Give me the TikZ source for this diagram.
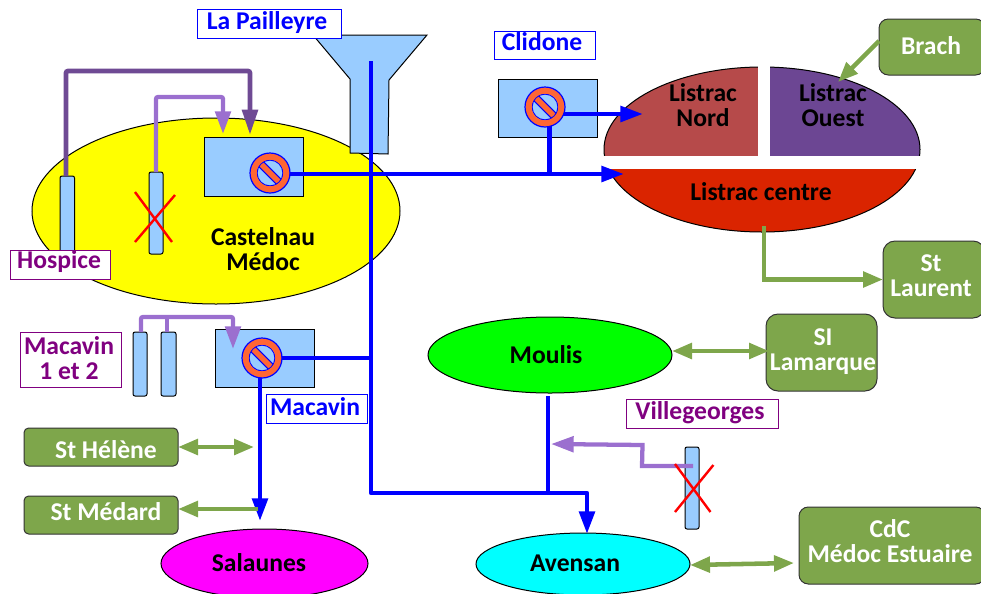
\documentclass[tikz,border=0pt]{standalone}
\usepackage{fontspec}
\setmainfont{Carlito}[BoldFont={Carlito Bold}]
\usetikzlibrary{arrows.meta,shapes.geometric,calc}
\definecolor{tubeblue}{HTML}{99CCFF}
\definecolor{pgreen}{HTML}{7EA64B}
\definecolor{darkpurple}{HTML}{6F4A94}
\definecolor{lightpurple}{HTML}{9B6FCF}
\definecolor{labelpurple}{HTML}{800080}
\definecolor{ringorange}{HTML}{FF6633}
\definecolor{nordred}{HTML}{B64A4A}
\definecolor{ouestpurple}{HTML}{6C4693}
\definecolor{centrered}{HTML}{DA2400}
\definecolor{pureyellow}{RGB}{255,255,0}
\definecolor{puregreen}{RGB}{0,255,0}
\definecolor{puremagenta}{RGB}{255,0,255}
\definecolor{purecyan}{RGB}{0,255,255}
\definecolor{pureblue}{RGB}{0,0,255}
\definecolor{purered}{RGB}{255,0,0}
\tikzset{
  txt/.style={font=\bfseries\fontsize{19.2}{18.75}\selectfont,align=center,inner sep=0pt},
  blacktxt/.style={txt,text=black},
  whitetxt/.style={txt,text=white},
  shapebase/.style={inner sep=0pt,outer sep=0pt,draw=black,line width=0.75pt},
  station/.style={shapebase,rectangle,fill=tubeblue},
  tube/.style={shapebase,rectangle,fill=tubeblue,rounded corners=1.5pt},
  greenbox/.style={shapebase,rectangle,fill=pgreen,draw=black!80,rounded corners=#1},
  greenbox/.default=7pt,
  bluelabel/.style={shapebase,rectangle,fill=white,draw=pureblue},
  purplelabel/.style={shapebase,rectangle,fill=white,draw=labelpurple},
  town/.style={shapebase,ellipse},
  nomark/.style={circle,minimum size=30pt,inner sep=0pt,outer sep=0pt},
  bluepipe/.style={draw=pureblue,line width=3.5pt,line join=round,-{Triangle[length=17pt,width=11.5pt]}},
  blueplain/.style={draw=pureblue,line width=3.5pt,line join=round},
  dpipe/.style={draw=darkpurple,line width=3.5pt,rounded corners=1.5pt,-{Triangle[length=19pt,width=11.5pt]}},
  lpipe/.style={draw=lightpurple,line width=3.2pt,rounded corners=1.5pt,-{Triangle[length=17pt,width=11.5pt]}},
  lplain/.style={draw=lightpurple,line width=3.2pt},
  garrow/.style={draw=pgreen,line width=3.4pt,-{Triangle[length=15pt,width=11.5pt]}},
  gdouble/.style={draw=pgreen,line width=3.4pt,{Triangle[length=15pt,width=11.5pt]}-{Triangle[length=15pt,width=11.5pt]}},
  crossline/.style={draw=purered,line width=1.8pt},
}
\newcommand{\placebox}[6]{%
  \pgfmathsetmacro\bxw{(#5-#3)*0.75}%
  \pgfmathsetmacro\bxh{(#6-#4)*0.75}%
  \node[#1,minimum width=\bxw pt,minimum height=\bxh pt] (#2) at ({(#3+#5)/2},{(#4+#6)/2}) {};%
}
\newcommand{\nosym}[1]{%
  \fill[tubeblue] (#1.center) circle (13);
  \draw[pureblue,line width=6pt] ($(#1.center)+(-10,-10)$) -- ($(#1.center)+(10,10)$);
  \draw[ringorange,line width=4.2pt] ($(#1.center)+(-12,-12)$) -- ($(#1.center)+(12,12)$);
  \draw[pureblue,line width=.9pt] (#1.center) circle (13);
  \draw[ringorange,line width=4.8pt] (#1.center) circle (16.5);
  \draw[pureblue,line width=.9pt] (#1.center) circle (20);
}
\begin{document}
\begin{tikzpicture}[x=0.75pt,y=-0.75pt]
\useasboundingbox (0,0) rectangle (981,593);
\clip (0,0) rectangle (981,593);
% towns
\placebox{town,fill=pureyellow}{castelnau}{32}{118}{400}{304}
\placebox{town,fill=puregreen}{moulis}{428}{317}{672}{393}
\placebox{town,fill=puremagenta}{salaunes}{161}{529}{368}{598}
\placebox{town,fill=purecyan}{avensan}{476}{533}{690}{595}
% Listrac
\placebox{town,draw=none}{listrac}{604}{67}{920}{232}
\begin{scope}
  \clip (600,60) rectangle (764,160);
  \fill[nordred] (listrac.center) ellipse (158 and 82.5);
\end{scope}
\begin{scope}
  \clip (764,60) rectangle (925,160);
  \fill[ouestpurple] (listrac.center) ellipse (158 and 82.5);
\end{scope}
\begin{scope}
  \clip (600,160) rectangle (925,240);
  \fill[centrered] (listrac.center) ellipse (158 and 82.5);
\end{scope}
\draw[line width=0.75pt] (listrac.center) ellipse (158 and 82.5);
\fill[white] (758,60) rectangle (770,160);
\fill[white] (598,156) rectangle (926,169);
% funnel
\draw[shapebase,fill=tubeblue] (313,35) -- (427,35) -- (389,80) -- (388,154) -- (350,153) -- (350,79) -- cycle;
% tubes
\placebox{tube}{hosptube}{60}{176}{74.5}{262}
\placebox{tube}{xtube}{149}{172}{163}{254}
\placebox{tube}{mac1}{133}{332}{147}{396}
\placebox{tube}{mac2}{161}{332}{176}{396}
\placebox{tube}{vtube}{685}{447}{699}{529}
% stations
\placebox{station}{castbox}{204}{137}{303}{196}
\placebox{station}{clidbox}{498}{79}{597}{137}
\placebox{station}{macbox}{215}{329}{314}{387}
\node[nomark] (castno) at (270,173) {};
\node[nomark] (clidno) at (545,107) {};
\node[nomark] (macno) at (262,358) {};
% coordinates
\coordinate (tipA) at (250,135);
\coordinate (tipB) at (223,134);
\coordinate (tipC) at (233,349);
\coordinate (funtop) at (371,61);
\coordinate (maincorner) at (371,493);
\coordinate (avtip) at (587,534);
\coordinate (listtip) at (624,174);
\coordinate (nordtip) at (643,114);
\coordinate (cljoin) at (549.5,174);
\coordinate (saltip) at (260,521);
\coordinate (moubottom) at (548,396);
\coordinate (moujoin) at (548,493);
\coordinate (vtip) at (551,444);
\coordinate (vstart) at (693,466);
\coordinate (helene) at (254,447);
\coordinate (medard) at (258,509);
\coordinate (lcentre) at (764,226);
% purple pipes
\draw[dpipe] (66,176) -- (66,71) -| (tipA);
\draw[lpipe] (156,172) -- (156,97) -| (tipB);
\draw[lpipe] (141,332) -- (141,317) -| (tipC);
\draw[lplain] (167,332) -- (167,317);
% blue pipes
\draw[bluepipe] (funtop) -- (maincorner) -| (avtip);
\draw[bluepipe] (castno.center |- listtip) -- (listtip);
\draw[bluepipe] (clidno.center |- nordtip) -- (nordtip);
\draw[blueplain] (clidno.center -| cljoin) -- (cljoin);
\draw[blueplain] (macno.center) -- (macno.center -| funtop);
\draw[bluepipe] (macno.center -| saltip) -- (saltip);
\draw[blueplain] (moubottom) -- (moujoin);
\nosym{castno}
\nosym{clidno}
\nosym{macno}
% Villegeorges pipe
\draw[draw=lightpurple,line width=3.2pt,-{Triangle[length=17pt,width=11.5pt]}] (vstart) -- (642,466) -- (642.5,445) -- (vtip);
% crosses
\draw[crossline] (135,192) -- (172,242);
\draw[crossline] (175,195) -- (135,242);
\draw[crossline] (675,464) -- (710.5,512);
\draw[crossline] (713.4,465) -- (675,512);
% green boxes
\placebox{greenbox=7pt}{brach}{879}{19}{985}{75}
\placebox{greenbox=9pt}{laurent}{883}{241}{985}{318}
\placebox{greenbox=9pt}{lamarque}{766}{314}{877}{391}
\placebox{greenbox=7pt}{cdc}{799}{507}{985}{584}
\placebox{greenbox=3.5pt}{helenebox}{24}{428}{178}{466}
\placebox{greenbox=3.5pt}{medardbox}{24}{496}{178}{534}
% green connectors
\draw[garrow] (brach.west |- 0,41) -- (838,82);
\draw[garrow] (lcentre) |- (laurent.west);
\draw[gdouble] (moulis.east |- 0,351) -- (769,351);
\draw[gdouble] (avensan.east |- 0,565) -- (794,563);
\draw[gdouble] (helenebox.east |- helene) -- (helene);
\draw[garrow] (medard) -- (medardbox.east |- medard);
% labels
\placebox{bluelabel}{paillbox}{197}{9}{341}{38}
\placebox{bluelabel}{clidlabel}{494}{31}{595}{59}
\placebox{bluelabel}{maclabel}{266}{394}{367}{423}
\placebox{purplelabel}{hosplabel}{10}{250}{110}{279}
\placebox{purplelabel}{maclab}{20}{332}{121}{387}
\placebox{purplelabel}{villelabel}{626}{399}{778}{428}
\node[txt,text=pureblue] (tpaill) at (267,23) {La Pailleyre};
\node[txt,text=pureblue] (tclid) at (542,42) {Clidone};
\node[txt,text=pureblue] (tmac) at (315,407) {Macavin};
\node[txt,text=labelpurple] (thosp) at (59,262) {Hospice};
\node[txt,text=labelpurple] (tmacs) at (69,358) {Macavin\\1 et 2};
\node[txt,text=labelpurple] (tville) at (700,413) {Villegeorges};
\node[blacktxt] (tcast) at (263,249) {Castelnau\\Médoc};
\node[blacktxt] (tnord) at (703,105) {Listrac\\Nord};
\node[blacktxt] (touest) at (833,105) {Listrac\\Ouest};
\node[blacktxt] (tcentre) at (761,192) {Listrac centre};
\node[blacktxt] (tmoulis) at (546,355) {Moulis};
\node[blacktxt] (tsal) at (259,563) {Salaunes};
\node[blacktxt] (tav) at (575,563) {Avensan};
\node[whitetxt] (tbrach) at (931,46) {Brach};
\node[whitetxt] (tlaur) at (931,276) {St\\Laurent};
\node[whitetxt] (tlam) at (823,352) {SI\\Lamarque};
\node[whitetxt] (tcdc) at (890,541) {CdC\\Médoc Estuaire};
\node[whitetxt] (thel) at (106,450) {St Hélène};
\node[whitetxt] (tmed) at (106,512) {St Médard};
\end{tikzpicture}
\end{document}
